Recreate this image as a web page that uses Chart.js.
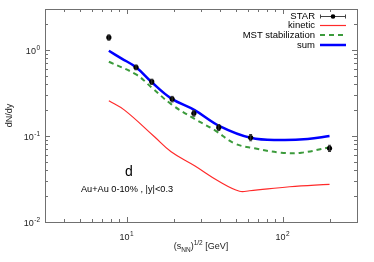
<!DOCTYPE html>
<html>
<head>
<meta charset="utf-8">
<script src="https://cdn.jsdelivr.net/npm/chart.js@4.4.1/dist/chart.umd.min.js"></script>
<style>
html, body { margin: 0; padding: 0; background: #fff; }
#wrap { width: 374px; height: 262px; }
</style>
</head>
<body>
<div id="wrap"><canvas id="chart" width="374" height="262"></canvas></div>
<script>
// Données (énergie en GeV, dN/dy)
const starE = [7.7, 11.5, 14.5, 19.6, 27, 39, 62.4, 200];
const starV = [1.40, 0.629, 0.428, 0.269, 0.184, 0.126, 0.096, 0.072];
const starErr = [0.10, 0.04, 0.03, 0.02, 0.014, 0.01, 0.008, 0.006];

const kinE = [7.7, 9.7, 15.1, 19.3, 27.3, 39.5, 53, 61.4, 111, 200];
const kinV = [0.257, 0.2, 0.098, 0.0656, 0.0451, 0.0294, 0.0228, 0.0231, 0.0257, 0.0274];

const mstE = [7.7, 11.5, 14.4, 19.3, 27.3, 36.7, 49.2, 66, 98, 132, 200];
const mstV = [0.73, 0.52, 0.37, 0.235, 0.158, 0.117, 0.082, 0.072, 0.064, 0.064, 0.074];

const sumE = [7.7, 9.25, 11.5, 14.4, 19.3, 27.3, 39.5, 62.4, 98, 145, 200];
const sumV = [0.98, 0.80, 0.63, 0.428, 0.274, 0.20, 0.1306, 0.0955, 0.0898, 0.0923, 0.10];

const xMin = 3, xMax = 300;
const yMin = 0.01, yMax = 3;
const xMajorExp = [1, 2];
const yMajorExp = [-2, -1, 0];

const legendItems = ['STAR', 'kinetic', 'MST stabilization', 'sum'];
const FONT = '"Liberation Sans", Arial, Helvetica, sans-serif';

const RED = '#ff2a2a';
const GREEN = '#3c9b3c';
const BLUE = '#0000ff';
const FRAME = '#707070';

function pts(xs, ys) {
    return xs.map((v, i) => ({ x: v, y: ys[i] }));
}

// Écrit 10^exp avec l'exposant en petit
function drawPow(ctx, exp, x, yBase, align) {
    const expStr = String(exp);
    ctx.font = '9px ' + FONT;
    const wBase = ctx.measureText('10').width;
    ctx.font = '6.5px ' + FONT;
    const wExp = ctx.measureText(expStr).width;
    const total = wBase + wExp + 0.5;
    let start = x - total / 2;
    if (align === 'right') start = x - total;
    ctx.textAlign = 'left';
    ctx.textBaseline = 'alphabetic';
    ctx.font = '9px ' + FONT;
    ctx.fillText('10', start, yBase);
    ctx.font = '6.5px ' + FONT;
    ctx.fillText(expStr, start + wBase + 0.5, yBase - 4);
}

// Barres d'erreur des points STAR
const errorBars = {
    id: 'errorBars',
    afterDatasetsDraw(chart) {
        const { ctx, scales: { x, y } } = chart;
        ctx.save();
        ctx.strokeStyle = '#333';
        ctx.lineWidth = 1;
        starE.forEach((e, i) => {
            const px = x.getPixelForValue(e);
            const y1 = y.getPixelForValue(starV[i] + starErr[i]);
            const y2 = y.getPixelForValue(starV[i] - starErr[i]);
            ctx.beginPath();
            ctx.moveTo(px, y1); ctx.lineTo(px, y2);
            ctx.moveTo(px - 1.5, y1); ctx.lineTo(px + 1.5, y1);
            ctx.moveTo(px - 1.5, y2); ctx.lineTo(px + 1.5, y2);
            ctx.stroke();
        });
        ctx.restore();
    }
};

// Cadre, graduations, libellés, légende et annotations
const decor = {
    id: 'decor',
    afterDraw(chart) {
        const { ctx, chartArea: a, scales: { x, y } } = chart;
        ctx.save();

        // cadre
        ctx.strokeStyle = FRAME;
        ctx.lineWidth = 1;
        ctx.strokeRect(Math.round(a.left) + 0.5, Math.round(a.top) + 0.5,
            Math.round(a.right - a.left), Math.round(a.bottom - a.top));

        // graduations x
        ctx.beginPath();
        for (let k = 0; k <= 2; k++) {
            for (let m = 1; m <= 9; m++) {
                const v = m * Math.pow(10, k);
                if (v < xMin || v > xMax) continue;
                const px = Math.round(x.getPixelForValue(v)) + 0.5;
                const len = m === 1 ? 5 : 3;
                ctx.moveTo(px, a.bottom); ctx.lineTo(px, a.bottom - len);
                ctx.moveTo(px, a.top); ctx.lineTo(px, a.top + len);
            }
        }
        // graduations y
        for (let k = -2; k <= 0; k++) {
            for (let m = 1; m <= 9; m++) {
                const v = m * Math.pow(10, k);
                if (v < yMin || v > yMax) continue;
                const py = Math.round(y.getPixelForValue(v)) + 0.5;
                const len = m === 1 ? 5 : 3;
                ctx.moveTo(a.left, py); ctx.lineTo(a.left + len, py);
                ctx.moveTo(a.right, py); ctx.lineTo(a.right - len, py);
            }
        }
        ctx.stroke();

        // libellés des graduations
        ctx.fillStyle = '#222';
        xMajorExp.forEach(e => {
            drawPow(ctx, e, x.getPixelForValue(Math.pow(10, e)), a.bottom + 17.5, 'center');
        });
        yMajorExp.forEach(e => {
            drawPow(ctx, e, a.left - 5, y.getPixelForValue(Math.pow(10, e)) + 3.5, 'right');
        });

        // titre axe y
        ctx.save();
        ctx.translate(10, (a.top + a.bottom) / 2);
        ctx.rotate(-Math.PI / 2);
        ctx.font = '9px ' + FONT;
        ctx.textAlign = 'center';
        ctx.textBaseline = 'middle';
        ctx.fillText('dN/dy', 0, 0);
        ctx.restore();

        // titre axe x : (s_NN)^1/2 [GeV]
        const parts = [
            { t: '(s', f: 9, dy: 0 },
            { t: 'NN', f: 6.5, dy: 2.5 },
            { t: ')', f: 9, dy: 0 },
            { t: '1/2', f: 6.5, dy: -4.5 },
            { t: ' [GeV]', f: 9, dy: 0 }
        ];
        let total = 0;
        parts.forEach(p => { ctx.font = p.f + 'px ' + FONT; p.w = ctx.measureText(p.t).width; total += p.w; });
        let cx = (a.left + a.right) / 2 - total / 2;
        const base = 249;
        ctx.textAlign = 'left';
        ctx.textBaseline = 'alphabetic';
        parts.forEach(p => {
            ctx.font = p.f + 'px ' + FONT;
            ctx.fillText(p.t, cx, base + p.dy);
            cx += p.w;
        });

        // annotations
        ctx.fillStyle = '#000';
        ctx.textAlign = 'center';
        ctx.font = '14px ' + FONT;
        ctx.fillText('d', 129, 176);
        ctx.font = '9.2px ' + FONT;
        ctx.fillText('Au+Au 0-10% , |y|<0.3', 127, 192);

        // légende
        const rows = [16, 25.5, 35, 45];
        const tx = 315, s0 = 320, s1 = 346;
        ctx.font = '9.5px ' + FONT;
        ctx.textAlign = 'right';
        ctx.textBaseline = 'middle';
        legendItems.forEach((label, i) => {
            ctx.fillStyle = '#000';
            ctx.fillText(label, tx, rows[i]);
        });
        // STAR
        let r = Math.round(rows[0]) + 0.5;
        ctx.strokeStyle = '#444';
        ctx.lineWidth = 1;
        ctx.setLineDash([]);
        ctx.beginPath();
        ctx.moveTo(s0, r); ctx.lineTo(s1, r);
        ctx.moveTo(s0 + 0.5, r - 2); ctx.lineTo(s0 + 0.5, r + 2);
        ctx.moveTo(s1 - 0.5, r - 2); ctx.lineTo(s1 - 0.5, r + 2);
        ctx.stroke();
        ctx.fillStyle = '#000';
        ctx.beginPath();
        ctx.arc((s0 + s1) / 2, r, 2.3, 0, Math.PI * 2);
        ctx.fill();
        // kinetic
        ctx.strokeStyle = RED;
        ctx.lineWidth = 1.2;
        ctx.beginPath();
        ctx.moveTo(s0, rows[1]); ctx.lineTo(s1, rows[1]);
        ctx.stroke();
        // MST
        ctx.strokeStyle = GREEN;
        ctx.lineWidth = 2;
        ctx.setLineDash([5, 4]);
        ctx.beginPath();
        ctx.moveTo(s0, rows[2]); ctx.lineTo(s1, rows[2]);
        ctx.stroke();
        ctx.setLineDash([]);
        // sum
        ctx.strokeStyle = BLUE;
        ctx.lineWidth = 2.5;
        ctx.beginPath();
        ctx.moveTo(s0, rows[3]); ctx.lineTo(s1, rows[3]);
        ctx.stroke();

        ctx.restore();
    }
};

const ctx = document.getElementById('chart').getContext('2d');
window.dndyChart = new Chart(ctx, {
    type: 'line',
    data: {
        datasets: [
            {
                label: 'STAR',
                data: pts(starE, starV),
                showLine: false,
                pointRadius: 2.6,
                pointBackgroundColor: '#000',
                pointBorderColor: '#000',
                pointBorderWidth: 0,
                order: 0
            },
            {
                label: 'sum',
                data: pts(sumE, sumV),
                borderColor: BLUE,
                borderWidth: 2.5,
                pointRadius: 0,
                tension: 0.4,
                fill: false,
                order: 1
            },
            {
                label: 'MST stabilization',
                data: pts(mstE, mstV),
                borderColor: GREEN,
                borderWidth: 2,
                borderDash: [5, 4],
                pointRadius: 0,
                tension: 0.4,
                fill: false,
                order: 2
            },
            {
                label: 'kinetic',
                data: pts(kinE, kinV),
                borderColor: RED,
                borderWidth: 1.2,
                pointRadius: 0,
                tension: 0.4,
                fill: false,
                order: 3
            }
        ]
    },
    options: {
        responsive: false,
        devicePixelRatio: 1,
        animation: false,
        layout: { padding: { top: 9, right: 17, left: 0, bottom: 0 } },
        plugins: {
            legend: { display: false },
            tooltip: { enabled: false }
        },
        scales: {
            x: {
                type: 'logarithmic',
                min: xMin,
                max: xMax,
                grid: { display: false },
                border: { display: false },
                ticks: { display: false },
                afterFit: s => { s.height = 40; }
            },
            y: {
                type: 'logarithmic',
                min: yMin,
                max: yMax,
                grid: { display: false },
                border: { display: false },
                ticks: { display: false },
                afterFit: s => { s.width = 45; }
            }
        }
    },
    plugins: [errorBars, decor]
});
</script>
</body>
</html>
